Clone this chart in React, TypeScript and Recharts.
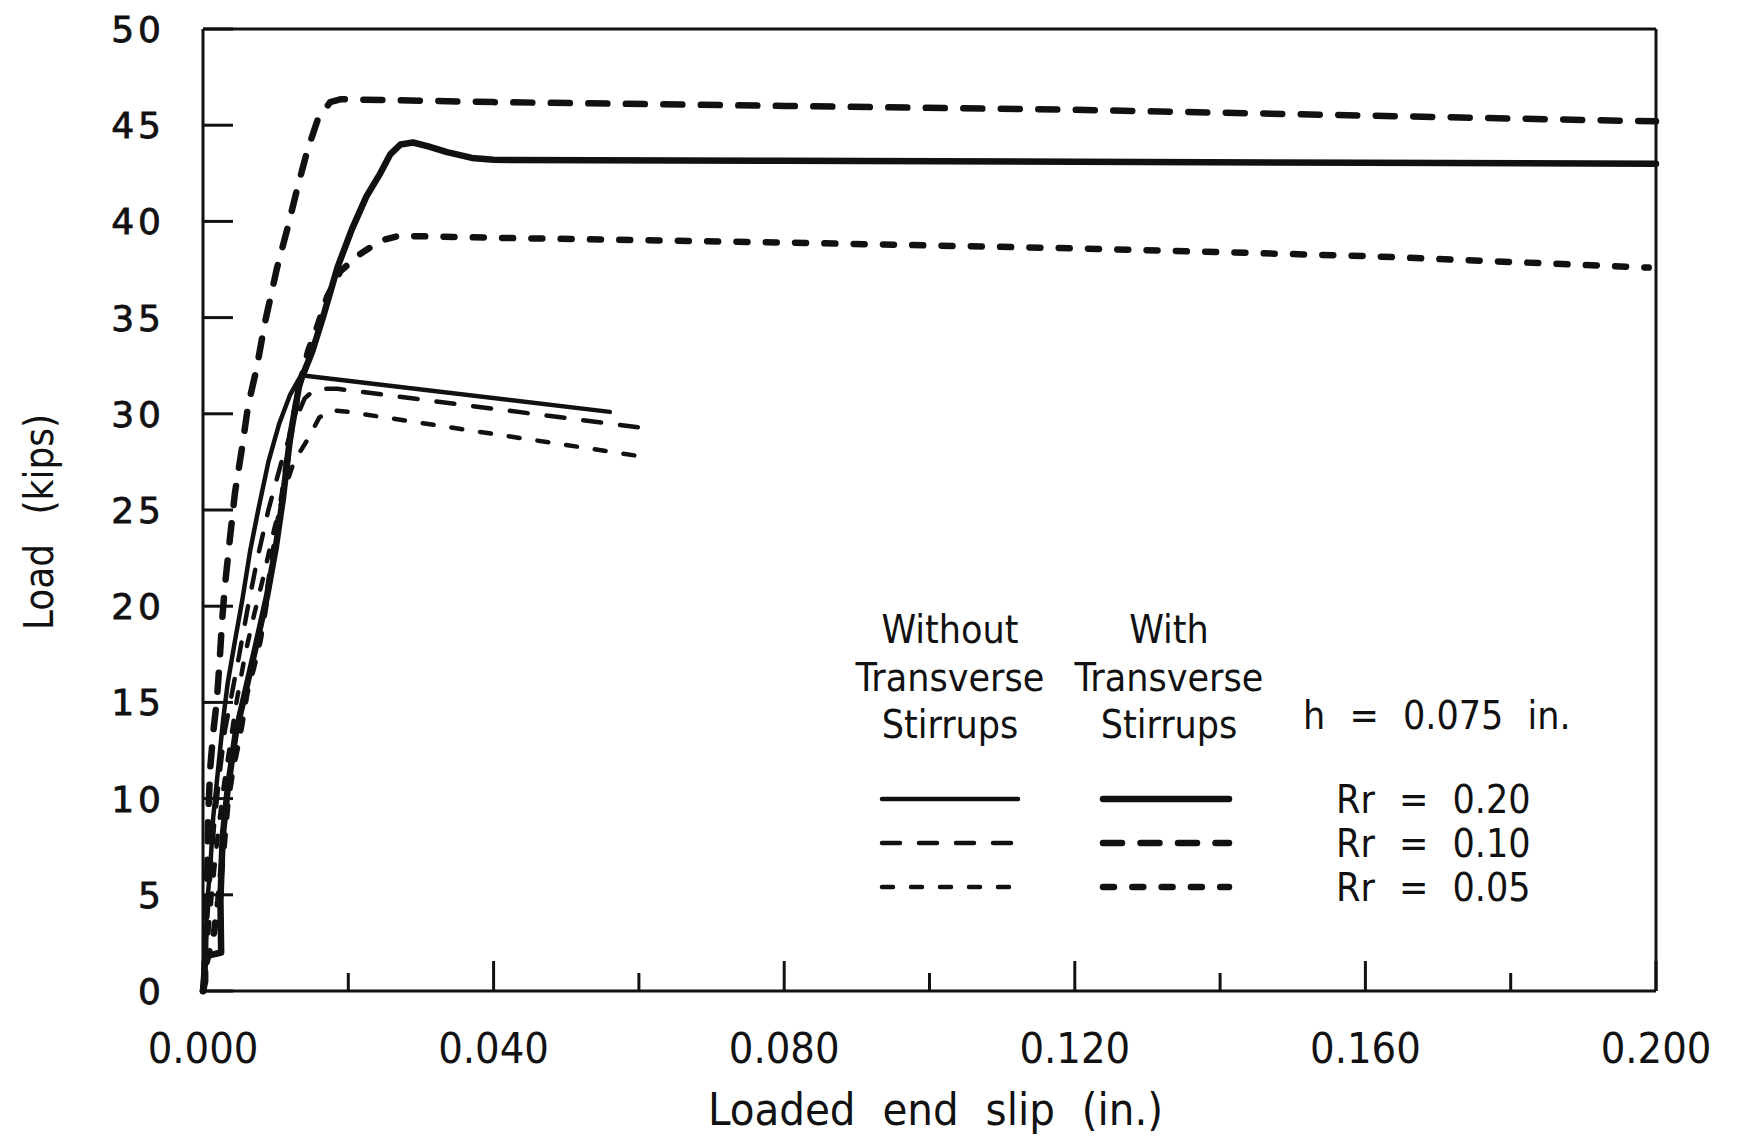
import { LineChart, Line, XAxis, YAxis, Legend, Label } from 'recharts';

// loaded end slip (in.) vs load (kips), h = 0.075 in.
const slipTicks = [0, 0.02, 0.04, 0.06, 0.08, 0.1, 0.12, 0.14, 0.16, 0.18, 0.2];
const labelledSlips = [0, 0.04, 0.08, 0.12, 0.16, 0.2];
const loadTicks = [0, 5, 10, 15, 20, 25, 30, 35, 40, 45, 50];

// with transverse stirrups
const withRr20: [number, number][] = [
  [0, 0], [0.0002, 1.0], [0.0003, 1.8], [0.0025, 2.0], [0.0024, 4.7], [0.0027, 8.0],
  [0.0034, 10.5], [0.0045, 13.4], [0.0058, 15.5], [0.0072, 17.8], [0.0088, 20.5],
  [0.0100, 23.0], [0.0110, 25.6], [0.0120, 28.8], [0.0133, 31.6], [0.0150, 33.2],
  [0.0165, 35.0], [0.0185, 37.6], [0.0205, 39.6], [0.0225, 41.3], [0.0244, 42.5],
  [0.0258, 43.5], [0.0272, 44.0], [0.0289, 44.1], [0.0310, 43.9], [0.0336, 43.6],
  [0.0370, 43.3], [0.040, 43.2], [0.080, 43.15], [0.120, 43.1], [0.160, 43.05], [0.200, 43.0],
];
const withRr10: [number, number][] = [
  [0, 0], [0.0003, 0.5], [0.0003, 3.0], [0.0006, 6.4], [0.0007, 9.0], [0.0010, 11.6],
  [0.0014, 13.4], [0.0019, 15.1], [0.0023, 17.2], [0.0026, 19.1], [0.0030, 21.0],
  [0.0037, 23.5], [0.0044, 25.9], [0.0054, 28.3], [0.0062, 30.4], [0.0074, 32.4],
  [0.0085, 34.7], [0.0102, 37.6], [0.0116, 39.6], [0.0129, 41.6], [0.0143, 43.6],
  [0.0158, 45.3], [0.0175, 46.2], [0.019, 46.35], [0.04, 46.2], [0.08, 46.0],
  [0.12, 45.8], [0.16, 45.5], [0.2, 45.2],
];
const withRr05: [number, number][] = [
  [0, 0], [0.0005, 1.5], [0.0015, 3.0], [0.0021, 4.7], [0.0028, 7.3], [0.0034, 9.9],
  [0.0041, 11.6], [0.0051, 13.4], [0.0060, 15.5], [0.0069, 16.8], [0.0078, 18.2],
  [0.0085, 19.8], [0.0092, 21.5], [0.0102, 24.0], [0.0110, 25.9], [0.0120, 28.8],
  [0.0133, 31.5], [0.0145, 33.3], [0.0157, 34.5], [0.0171, 36.1], [0.0189, 37.4],
  [0.0216, 38.3], [0.0245, 39.0], [0.027, 39.25], [0.04, 39.15], [0.08, 38.9],
  [0.12, 38.6], [0.16, 38.2], [0.199, 37.6],
];

// without transverse stirrups
const withoutRr20: [number, number][] = [
  [0, 0], [0.0004, 3.0], [0.0006, 4.7], [0.0010, 6.4], [0.0014, 9.0], [0.0021, 11.6],
  [0.0028, 14.2], [0.0034, 16.0], [0.0044, 18.2], [0.0054, 20.3], [0.0065, 22.9],
  [0.0076, 25.0], [0.0090, 27.5], [0.0105, 29.5], [0.0120, 31.0], [0.0135, 32.0],
  [0.056, 30.1],
];
const withoutRr10: [number, number][] = [
  [0, 0], [0.0003, 2.0], [0.0008, 5.0], [0.0015, 8.5], [0.0022, 11.0], [0.0030, 13.5],
  [0.0040, 15.5], [0.0050, 17.5], [0.0062, 20.0], [0.0075, 22.5], [0.0090, 25.0],
  [0.0108, 27.5], [0.0125, 29.5], [0.0140, 30.8], [0.0155, 31.3], [0.0185, 31.3],
  [0.062, 29.2],
];
const withoutRr05: [number, number][] = [
  [0, 0], [0.0005, 2.0], [0.0012, 5.0], [0.0020, 8.0], [0.0028, 10.5], [0.0036, 12.5],
  [0.0046, 15.0], [0.0058, 17.5], [0.0070, 19.5], [0.0083, 21.5], [0.0098, 24.0],
  [0.0112, 26.0], [0.0125, 27.5], [0.0143, 28.6], [0.0160, 29.8], [0.0175, 30.2],
  [0.020, 30.1], [0.0618, 27.7],
];

const INK = '#111';
const CONDENSED = "'DejaVu Sans Condensed', 'DejaVu Sans', sans-serif";
const THICK = 6.5;
const THIN = 4.5;

const toPoints = (pts: [number, number][]) => pts.map(([slip, load]) => ({ slip, load }));

const series = [
  { key: 'withoutRr20', pts: withoutRr20, width: THIN, dash: undefined },
  { key: 'withoutRr10', pts: withoutRr10, width: THIN, dash: '18 19' },
  { key: 'withoutRr05', pts: withoutRr05, width: THIN, dash: '11 18' },
  { key: 'withRr20', pts: withRr20, width: THICK, dash: undefined },
  { key: 'withRr10', pts: withRr10, width: THICK, dash: '19 18.5' },
  { key: 'withRr05', pts: withRr05, width: THICK, dash: '11 18.3' },
];

const isLabelled = (v: number) => labelledSlips.some((s) => Math.abs(s - v) < 1e-9);

// ticks point inward from every side of the frame
const BottomTick = ({ x, y, payload }: any) => {
  const major = isLabelled(payload.value);
  return (
    <g>
      <line x1={x} y1={y} x2={x} y2={y - (major ? 30 : 18)} stroke={INK} strokeWidth={3} />
      {major && (
        <text x={x} y={y + 72} textAnchor="middle" fontFamily={CONDENSED} fontStretch="condensed"
          fontSize={43} fill={INK}>
          {payload.value.toFixed(3)}
        </text>
      )}
    </g>
  );
};

const TopTick = ({ x, y, payload }: any) => {
  const major = isLabelled(payload.value);
  return <line x1={x} y1={y} x2={x} y2={y + (major ? 30 : 18)} stroke={INK} strokeWidth={3} />;
};

const LeftTick = ({ x, y, payload }: any) => (
  <g>
    <line x1={x} y1={y} x2={x + 30} y2={y} stroke={INK} strokeWidth={3} />
    <text x={x - 38} y={y} dy="0.36em" textAnchor="end" fontFamily="'DejaVu Sans', sans-serif"
      fontSize={36} letterSpacing={4} fill={INK} stroke={INK} strokeWidth={0.8}>
      {payload.value}
    </text>
  </g>
);

const RightTick = ({ x, y }: any) => (
  <line x1={x} y1={y} x2={x - 30} y2={y} stroke={INK} strokeWidth={3} />
);

const legendText = {
  fontFamily: CONDENSED,
  fontStretch: 'condensed',
  fontSize: 39,
  fill: INK,
} as const;

const LegendBlock = () => {
  const rows = [209, 253, 297];
  const rrLabels = ['Rr = 0.20', 'Rr = 0.10', 'Rr = 0.05'];
  const without = series.slice(0, 3);
  const withS = series.slice(3);
  return (
    <svg width={760} height={330} style={{ display: 'block', overflow: 'visible' }}>
      {['Without', 'Transverse', 'Stirrups'].map((t, i) => (
        <text key={t} x={100} y={53 + i * 47.5} textAnchor="middle" {...legendText}>{t}</text>
      ))}
      {['With', 'Transverse', 'Stirrups'].map((t, i) => (
        <text key={t} x={319} y={53 + i * 47.5} textAnchor="middle" {...legendText}>{t}</text>
      ))}
      <text x={453} y={139} wordSpacing={13} {...legendText}>h = 0.075 in.</text>
      {rows.map((ry, i) => (
        <g key={ry}>
          <line x1={32} x2={168} y1={ry} y2={ry} stroke={INK} strokeWidth={without[i].width}
            strokeDasharray={without[i].dash} strokeLinecap="round" />
          <line x1={253} x2={379} y1={ry} y2={ry} stroke={INK} strokeWidth={withS[i].width}
            strokeDasharray={withS[i].dash} strokeLinecap="round" />
          <text x={486} y={ry + 14} wordSpacing={13} {...legendText}>{rrLabels[i]}</text>
        </g>
      ))}
    </svg>
  );
};

export default function App() {
  return (
    <div style={{ position: 'absolute', left: 0, top: 0, background: '#fff' }}>
      <LineChart width={1739} height={1138} margin={{ top: 0, right: 0, bottom: 0, left: 0 }}>
        <XAxis dataKey="slip" type="number" domain={[0, 0.2]} ticks={slipTicks} interval={0}
          height={147} tickSize={0} tickMargin={0} tick={<BottomTick />}
          axisLine={{ stroke: INK, strokeWidth: 3 }} tickLine={false}>
          <Label content={({ viewBox }: any) => (
            <text x={viewBox.x + viewBox.width / 2 + 6} y={viewBox.y + 134} textAnchor="middle"
              fontFamily={CONDENSED} fontStretch="condensed" fontSize={45} wordSpacing={14} fill={INK}>
              Loaded end slip (in.)
            </text>
          )} />
        </XAxis>
        <XAxis xAxisId="top" orientation="top" dataKey="slip" type="number" domain={[0, 0.2]}
          ticks={slipTicks} interval={0} height={29} tickSize={0} tickMargin={0} tick={<TopTick />}
          axisLine={{ stroke: INK, strokeWidth: 3 }} tickLine={false} />
        <YAxis type="number" domain={[0, 50]} ticks={loadTicks} interval={0} width={203}
          tickSize={0} tickMargin={0} tick={<LeftTick />}
          axisLine={{ stroke: INK, strokeWidth: 3 }} tickLine={false}>
          <Label content={({ viewBox }: any) => (
            <text transform={`translate(${viewBox.x + 53}, ${viewBox.y + viewBox.height / 2 + 12}) rotate(-90)`}
              textAnchor="middle" fontFamily={CONDENSED} fontStretch="condensed" fontSize={40}
              wordSpacing={18} fill={INK}>
              Load (kips)
            </text>
          )} />
        </YAxis>
        <YAxis yAxisId="right" orientation="right" type="number" domain={[0, 50]} ticks={loadTicks}
          interval={0} width={83} tickSize={0} tickMargin={0} tick={<RightTick />}
          axisLine={{ stroke: INK, strokeWidth: 3 }} tickLine={false} />
        <Legend layout="vertical" align="center" verticalAlign="middle" content={<LegendBlock />}
          wrapperStyle={{ left: 850, top: 590, width: 760, height: 330 }} />
        {series.map((s) => (
          <Line key={s.key} data={toPoints(s.pts)} dataKey="load" type="linear" stroke={INK}
            strokeWidth={s.width} strokeDasharray={s.dash} strokeLinecap="round"
            strokeLinejoin="round" dot={false} activeDot={false} isAnimationActive={false}
            legendType="none" />
        ))}
      </LineChart>
    </div>
  );
}
